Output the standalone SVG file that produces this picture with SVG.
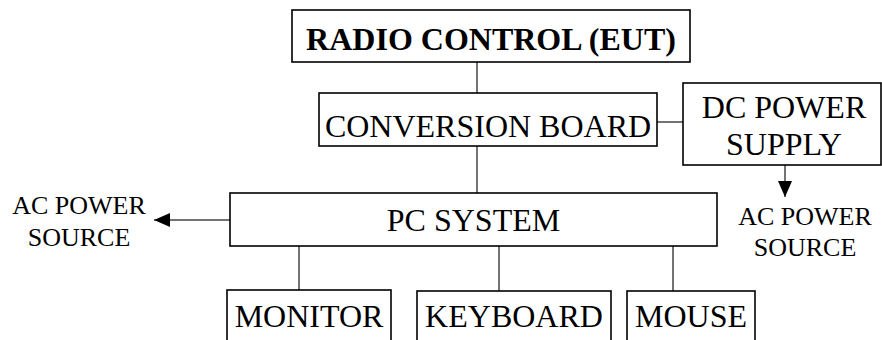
<svg xmlns="http://www.w3.org/2000/svg" width="882" height="340" viewBox="0 0 882 340">
<style>
.box{fill:#fff;stroke:#000;stroke-width:1.6}
text{font-family:'Liberation Serif',serif;fill:#000;text-anchor:middle}
.t{font-size:32px}
.b{font-weight:bold}
.s{font-size:26px}
.c{stroke:#444;stroke-width:1.5;fill:none}
</style>
<defs>
<marker id="ah" markerWidth="16" markerHeight="14" refX="16" refY="7" orient="auto" markerUnits="userSpaceOnUse">
<path d="M0,0 L16,7 L0,14 Z" fill="#000"/>
</marker>
</defs>
<rect width="882" height="340" fill="#fff"/>
<g id="connectors">
<line class="c" x1="477" y1="62" x2="477" y2="93"/>
<line class="c" x1="477" y1="146" x2="477" y2="193"/>
<line class="c" x1="657" y1="122" x2="683" y2="122"/>
<line class="c" x1="785" y1="165" x2="785" y2="197" marker-end="url(#ah)"/>
<line class="c" x1="230" y1="220" x2="154" y2="220" marker-end="url(#ah)"/>
<line class="c" x1="299" y1="246" x2="299" y2="290"/>
<line class="c" x1="499" y1="246" x2="499" y2="291"/>
<line class="c" x1="673" y1="246" x2="673" y2="291"/>
</g>
<g id="radio">
<rect class="box" x="292" y="10" width="398" height="52"/>
<text class="t b" x="491" y="50" font-family="Liberation Serif">RADIO CONTROL (EUT)</text>
</g>
<g id="conversion">
<rect class="box" x="319" y="93" width="338" height="53"/>
<text class="t" x="488" y="137" font-family="Liberation Serif">CONVERSION BOARD</text>
</g>
<g id="dcpower">
<rect class="box" x="683" y="83" width="198" height="82"/>
<text class="t" x="784" y="118">DC POWER</text>
<text class="t" x="784" y="155">SUPPLY</text>
</g>
<g id="acright">
<text class="s" x="805" y="225">AC POWER</text>
<text class="s" x="805" y="256">SOURCE</text>
</g>
<g id="pc">
<rect class="box" x="230" y="193" width="487" height="53"/>
<text class="t" x="473.5" y="231">PC SYSTEM</text>
</g>
<g id="acleft">
<text class="s" x="79" y="214">AC POWER</text>
<text class="s" x="79" y="246">SOURCE</text>
</g>
<g id="monitor">
<rect class="box" x="227" y="290" width="164" height="60"/>
<text class="t" x="309" y="327">MONITOR</text>
</g>
<g id="keyboard">
<rect class="box" x="417" y="291" width="194" height="59"/>
<text class="t" x="514" y="327">KEYBOARD</text>
</g>
<g id="mouse">
<rect class="box" x="627" y="291" width="128" height="59"/>
<text class="t" x="691" y="327">MOUSE</text>
</g>
</svg>
